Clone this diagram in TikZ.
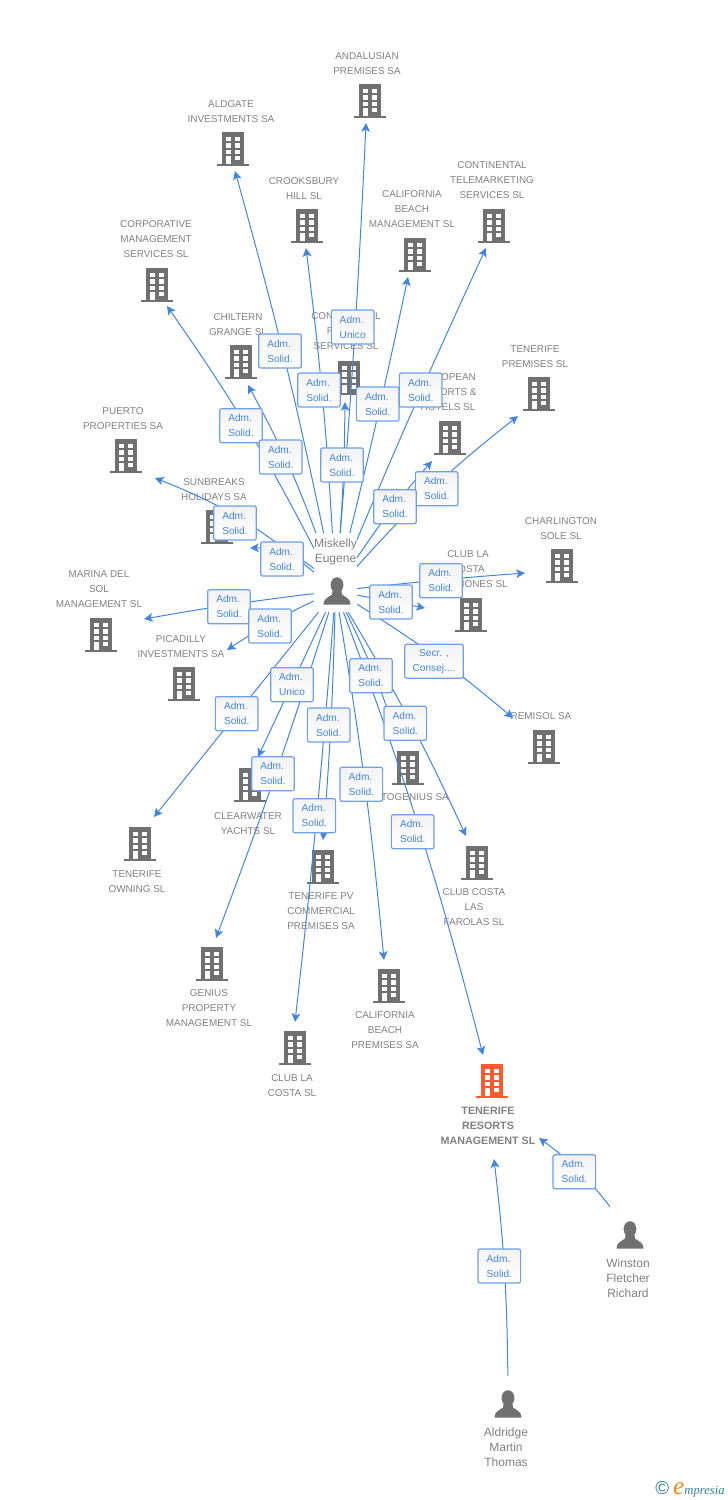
\documentclass[tikz,border=0pt]{standalone}
\usepackage{fontspec}
\setmainfont{Liberation Sans}
\newfontfamily\logofont{Liberation Serif}
\usetikzlibrary{arrows.meta,positioning}
\definecolor{iconGray}{HTML}{707070}
\definecolor{textGray}{HTML}{808080}
\definecolor{linkBlue}{HTML}{4285E0}
\definecolor{boxBlue}{HTML}{6CA0EA}
\definecolor{targetOrange}{HTML}{FF5A2C}
\definecolor{logoTeal}{HTML}{2F7F92}
\definecolor{logoOrange}{HTML}{F08A1E}
\tikzset
{
    building/.style = {rectangle, inner sep=0pt, minimum width=23.7pt, minimum height=25.5pt, path picture={
        \coordinate (c) at (path picture bounding box.center);
        \fill[#1] ([shift=({-11, -16.8})]c) rectangle ([shift=({11, 17})]c);
        \fill[#1] ([shift=({-15.8, 14.8})]c) rectangle ([shift=({15.8, 17})]c);
        \foreach \wx in {-7.2, 2.2} \foreach \wy in {-12.5, -5.8, 0.8}
            \fill[white] ([shift=({\wx, \wy})]c) rectangle ++(4.8, 4.4);
        \fill[white] ([shift=({-7.2, 6.8})]c) rectangle ++(4.8, 8);
        \fill[white] ([shift=({2.2, 6.8})]c) rectangle ++(4.8, 4);
    }},
    building/.default = iconGray,
    person/.style = {rectangle, inner sep=0pt, minimum width=33pt, minimum height=42pt, path picture={
        \coordinate (c) at ([shift={#1}]path picture bounding box.center);
        \fill[iconGray] ([shift=({0, -6})]c) ellipse [x radius=6.4, y radius=7.8];
        \fill[iconGray] ([shift=({-13.5, 13.7})]c) .. controls ([shift=({-13.5, 8})]c) and ([shift=({-10, 7})]c) .. ([shift=({-5, 3.5})]c)
            -- ([shift=({-4.5, 0})]c) -- ([shift=({4.5, 0})]c) -- ([shift=({5, 3.5})]c)
            .. controls ([shift=({10, 7})]c) and ([shift=({13.5, 8})]c) .. ([shift=({13.5, 13.7})]c) -- cycle;
    }},
    firmtext/.style = {align=center, inner sep=0pt, text=textGray, yshift=-0.4pt, font=\fontsize{7.45}{11.25}\selectfont},
    nametext/.style = {align=center, inner sep=0pt, text=textGray, yshift=-0.4pt, font=\fontsize{9}{11.25}\selectfont},
    relbox/.style = {rectangle, draw=boxBlue, line width=0.9pt, rounded corners=1.5pt, top color=black!5, bottom color=white, align=left,
        text=linkBlue, inner sep=0pt, minimum width=32pt, minimum height=25.5pt, font=\fontsize{7.6}{11.25}\selectfont},
    link/.style = {draw=linkBlue, line width=0.75pt, -{Stealth[length=6.5pt, width=6.5pt, inset=1.5pt]}},
}

\begin{document}
\begin{tikzpicture}[x=0.75pt, y=-0.75pt]
   \useasboundingbox (0, 0) rectangle (728, 1500);

   % firm names
   \node (andalusiantxt)  [firmtext] at (367, 63)    {ANDALUSIAN\\PREMISES SA};
   \node (aldgatetxt)     [firmtext] at (231, 111)   {ALDGATE\\INVESTMENTS SA};
   \node (crooksburytxt)  [firmtext] at (304, 188)   {CROOKSBURY\\HILL SL};
   \node (calmgmttxt)     [firmtext] at (412, 209)   {CALIFORNIA\\BEACH\\MANAGEMENT SL};
   \node (telemarktxt)    [firmtext] at (492, 180)   {CONTINENTAL\\TELEMARKETING\\SERVICES SL};
   \node (corporativetxt) [firmtext] at (156, 239)   {CORPORATIVE\\MANAGEMENT\\SERVICES SL};
   \node (chilterntxt)    [firmtext] at (238, 324)   {CHILTERN\\GRANGE SL};
   \node (rentaltxt)      [firmtext] at (346, 331)   {CONTINENTAL\\RENTAL\\SERVICES SL};
   \node (europeantxt)    [firmtext] at (448, 392)   {EUROPEAN\\RESORTS \&\\HOTELS SL};
   \node (premisestxt)    [firmtext] at (535, 356)   {TENERIFE\\PREMISES SL};
   \node (puertotxt)      [firmtext] at (123, 418)   {PUERTO\\PROPERTIES SA};
   \node (sunbreakstxt)   [firmtext] at (214, 489)   {SUNBREAKS\\HOLIDAYS SA};
   \node (charlingtontxt) [firmtext] at (561, 528)   {CHARLINGTON\\SOLE SL};
   \node (vacacionestxt)  [firmtext] at (468, 569)   {CLUB LA\\COSTA\\VACACIONES SL};
   \node (marinatxt)      [firmtext] at (99, 589)    {MARINA DEL\\SOL\\MANAGEMENT SL};
   \node (picadillytxt)   [firmtext] at (181, 646)   {PICADILLY\\INVESTMENTS SA};
   \node (remisoltxt)     [firmtext] at (541, 716)   {REMISOL SA};
   \node (clearwatertxt)  [firmtext] at (248, 823)   {CLEARWATER\\YACHTS SL};
   \node (owningtxt)      [firmtext] at (137, 881)   {TENERIFE\\OWNING SL};
   \node (pvtxt)          [firmtext] at (321, 911)   {TENERIFE PV\\COMMERCIAL\\PREMISES SA};
   \node (autogeniustxt)  [firmtext] at (408, 797)   {AUTOGENIUS SA};
   \node (geniustxt)      [firmtext] at (209, 1008)  {GENIUS\\PROPERTY\\MANAGEMENT SL};
   \node (clublacostatxt) [firmtext] at (292, 1085)  {CLUB LA\\COSTA SL};
   \node (calpremisestxt) [firmtext] at (385, 1030)  {CALIFORNIA\\BEACH\\PREMISES SA};
   \node (farolastxt)     [firmtext] at (474, 907)   {CLUB COSTA\\LAS\\FAROLAS SL};
   \node (resortstxt)     [firmtext, font=\fontsize{8.05}{11.25}\selectfont\bfseries] at (488, 1125) {TENERIFE\\RESORTS\\MANAGEMENT SL};

   % people names
   \node (winstontxt)     [nametext] at (628, 1278)  {Winston\\Fletcher\\Richard};
   \node (aldridgetxt)    [nametext] at (506, 1447)  {Aldridge\\Martin\\Thomas};

   % firms
   \node (andalusian)  [building]               at (370, 101)   {};
   \node (aldgate)     [building]               at (233, 149)   {};
   \node (crooksbury)  [building]               at (307, 226)   {};
   \node (calmgmt)     [building]               at (415, 255)   {};
   \node (telemark)    [building]               at (494, 226)   {};
   \node (corporative) [building]               at (157, 285)   {};
   \node (chiltern)    [building]               at (241, 362)   {};
   \node (rental)      [building]               at (349, 378)   {};
   \node (european)    [building]               at (450, 438)   {};
   \node (premises)    [building]               at (539, 394)   {};
   \node (puerto)      [building]               at (126, 456)   {};
   \node (sunbreaks)   [building]               at (217, 527)   {};
   \node (charlington) [building]               at (562, 566)   {};
   \node (vacaciones)  [building]               at (471, 615)   {};
   \node (marina)      [building]               at (101, 635)   {};
   \node (picadilly)   [building]               at (184, 684)   {};
   \node (remisol)     [building]               at (544, 747)   {};
   \node (clearwater)  [building]               at (250, 785)   {};
   \node (owning)      [building]               at (140, 844)   {};
   \node (pv)          [building]               at (323, 867)   {};
   \node (autogenius)  [building]               at (408, 768)   {};
   \node (genius)      [building]               at (212, 964)   {};
   \node (clublacosta) [building]               at (295, 1048)  {};
   \node (calpremises) [building]               at (389, 986)   {};
   \node (farolas)     [building]               at (477, 863)   {};
   \node (resorts)     [building=targetOrange]  at (492, 1081)  {};

   % people
   \node (miskelly)    [person={({1.5, 0})}, minimum width=32.25pt, minimum height=31.5pt] at (335.5, 591) {};
   \node (winston)     [person={({0, 0})}]      at (630, 1235)  {};
   \node (aldridge)    [person={({0, 0})}]      at (508, 1404)  {};

   % arrow ends
   \coordinate (andalusiantip)  at ([shift=({ -4,  22})]andalusian);
   \coordinate (aldgatetip)     at ([shift=({  2,  22})]aldgate);
   \coordinate (crooksburytip)  at ([shift=({ -1,  22})]crooksbury);
   \coordinate (calmgmttip)     at ([shift=({ -7,  22})]calmgmt);
   \coordinate (telemarktip)    at ([shift=({ -8,  22})]telemark);
   \coordinate (corporativetip) at ([shift=({ 10,  21})]corporative);
   \coordinate (chilterntip)    at ([shift=({  7,  23})]chiltern);
   \coordinate (rentaltip)      at ([shift=({ -4,  24})]rental);
   \coordinate (europeantip)    at ([shift=({-18,  23})]european);
   \coordinate (premisestip)    at ([shift=({-21,  22})]premises);
   \coordinate (puertotip)      at ([shift=({ 29,  22})]puerto);
   \coordinate (sunbreakstip)   at ([shift=({ 33,  21})]sunbreaks);
   \coordinate (charlingtontip) at ([shift=({-37,   7})]charlington);
   \coordinate (vacacionestip)  at ([shift=({-46,  -7})]vacaciones);
   \coordinate (marinatip)      at ([shift=({ 43, -16})]marina);
   \coordinate (picadillytip)   at ([shift=({ 43, -34})]picadilly);
   \coordinate (remisoltip)     at ([shift=({-31, -29})]remisol);
   \coordinate (clearwatertip)  at ([shift=({  8, -28})]clearwater);
   \coordinate (owningtip)      at ([shift=({ 14, -27})]owning);
   \coordinate (pvtip)          at ([shift=({  0, -27})]pv);
   \coordinate (autogeniustip)  at ([shift=({-11, -30})]autogenius);
   \coordinate (geniustip)      at ([shift=({  4, -26})]genius);
   \coordinate (clublacostatip) at ([shift=({  0, -26})]clublacosta);
   \coordinate (calpremisestip) at ([shift=({ -5, -26})]calpremises);
   \coordinate (farolastip)     at ([shift=({-11, -27})]farolas);
   \coordinate (resortstip)     at ([shift=({ -9, -26})]resorts);
   \coordinate (resortsbottom)  at ([shift=({  2,  78})]resorts);
   \coordinate (resortsright)   at ([shift=({ 47,  57})]resorts);

   \path
      (miskelly) edge[link, bend right=1]   (andalusiantip)
      (miskelly) edge[link, bend right=2]   (aldgatetip)
      (miskelly) edge[link, bend right=2]   (crooksburytip)
      (miskelly) edge[link, bend right=1]   (calmgmttip)
      (miskelly) edge[link, bend left=1]    (telemarktip)
      (miskelly) edge[link, bend right=4]   (corporativetip)
      (miskelly) edge[link, bend right=5]   (chilterntip)
      (miskelly) edge[link, bend right=2]   (rentaltip)
      (miskelly) edge[link, bend left=4]    (europeantip)
      (miskelly) edge[link, bend left=5]    (premisestip)
      (miskelly) edge[link, bend right=9]   (puertotip)
      (miskelly) edge[link, bend right=20]  (sunbreakstip)
      (miskelly) edge[link, bend left=1]    (charlingtontip)
      (miskelly) edge[link]                 (vacacionestip)
      (miskelly) edge[link, bend right=1.5] (marinatip)
      (miskelly) edge[link, bend right=4]   (picadillytip)
      (miskelly) edge[link, bend left=4]    (remisoltip)
      (miskelly) edge[link]                 (clearwatertip)
      (miskelly) edge[link]                 (owningtip)
      (miskelly) edge[link, bend left=1.5]  (pvtip)
      (miskelly) edge[link, bend left=4]    (autogeniustip)
      (miskelly) edge[link, bend left=1.5]  (geniustip)
      (miskelly) edge[link, bend left=1]    (clublacostatip)
      (miskelly) edge[link, bend left=2]    (calpremisestip)
      (miskelly) edge[link, bend left=3]    (farolastip)
      (miskelly) edge[link, bend left=3]    (resortstip)
      (winston)  edge[link, bend right=8]   (resortsright)
      (aldridge) edge[link, bend right=3]   (resortsbottom);

   % the name sits over the ends of the upper lines
   \node (miskellytxt) [nametext, fill=white, minimum width=32.25pt, minimum height=28.5pt] at (335.5, 551) {Miskelly\\Eugene};

   % relation boxes
   \node (relaldgate)     [relbox] at (280, 351)     {Adm.\\Solid.};
   \node (relandalusian)  [relbox] at (352.7, 327)   {Adm.\\Unico};
   \node (relcrooksbury)  [relbox] at (319, 390)     {Adm.\\Solid.};
   \node (relcalmgmt)     [relbox] at (377.7, 404)   {Adm.\\Solid.};
   \node (reltelemark)    [relbox] at (420.7, 390)   {Adm.\\Solid.};
   \node (relcorporative) [relbox] at (241, 425.7)   {Adm.\\Solid.};
   \node (relchiltern)    [relbox] at (280.7, 457)   {Adm.\\Solid.};
   \node (relrental)      [relbox] at (342, 465)     {Adm.\\Solid.};
   \node (relpremises)    [relbox] at (436.7, 488.7) {Adm.\\Solid.};
   \node (releuropean)    [relbox] at (395, 506.7)   {Adm.\\Solid.};
   \node (relpuerto)      [relbox] at (235, 523)     {Adm.\\Solid.};
   \node (relsunbreaks)   [relbox] at (282, 559)     {Adm.\\Solid.};
   \node (relcharlington) [relbox] at (441, 580.7)   {Adm.\\Solid.};
   \node (relvacaciones)  [relbox] at (391, 602)     {Adm.\\Solid.};
   \node (relmarina)      [relbox] at (229, 606.7)   {Adm.\\Solid.};
   \node (relpicadilly)   [relbox] at (270, 626)     {Adm.\\Solid.};
   \node (relremisol)     [relbox, align=center, minimum width=44pt] at (434, 661.3) {Secr. ,\\Consej....};
   \node (relclearwater)  [relbox] at (292, 684.7)   {Adm.\\Unico};
   \node (relowning)      [relbox] at (236.7, 713.7) {Adm.\\Solid.};
   \node (relautogenius)  [relbox] at (371, 675.7)   {Adm.\\Solid.};
   \node (relpv)          [relbox] at (328.7, 725)   {Adm.\\Solid.};
   \node (relfarolas)     [relbox] at (405.3, 723.3) {Adm.\\Solid.};
   \node (relgenius)      [relbox] at (273, 773.7)   {Adm.\\Solid.};
   \node (relcalpremises) [relbox] at (361.3, 784.3) {Adm.\\Solid.};
   \node (relclublacosta) [relbox] at (314.3, 815.7) {Adm.\\Solid.};
   \node (relresorts)     [relbox] at (412.7, 831.7) {Adm.\\Solid.};
   \node (relwinston)     [relbox] at (574.3, 1171.7) {Adm.\\Solid.};
   \node (relaldridge)    [relbox] at (499.3, 1266)  {Adm.\\Solid.};

   % logo
   \node (logo) [inner sep=0pt, text=logoTeal, font=\logofont\itshape\fontsize{9.5}{11}\selectfont, anchor=east] at (725, 1489)
      {{\normalfont\fontsize{14}{11}\selectfont\textcopyright}\hspace{3pt}{\color{logoOrange}\fontsize{19}{11}\selectfont e}mpresia};
\end{tikzpicture}
\end{document}
